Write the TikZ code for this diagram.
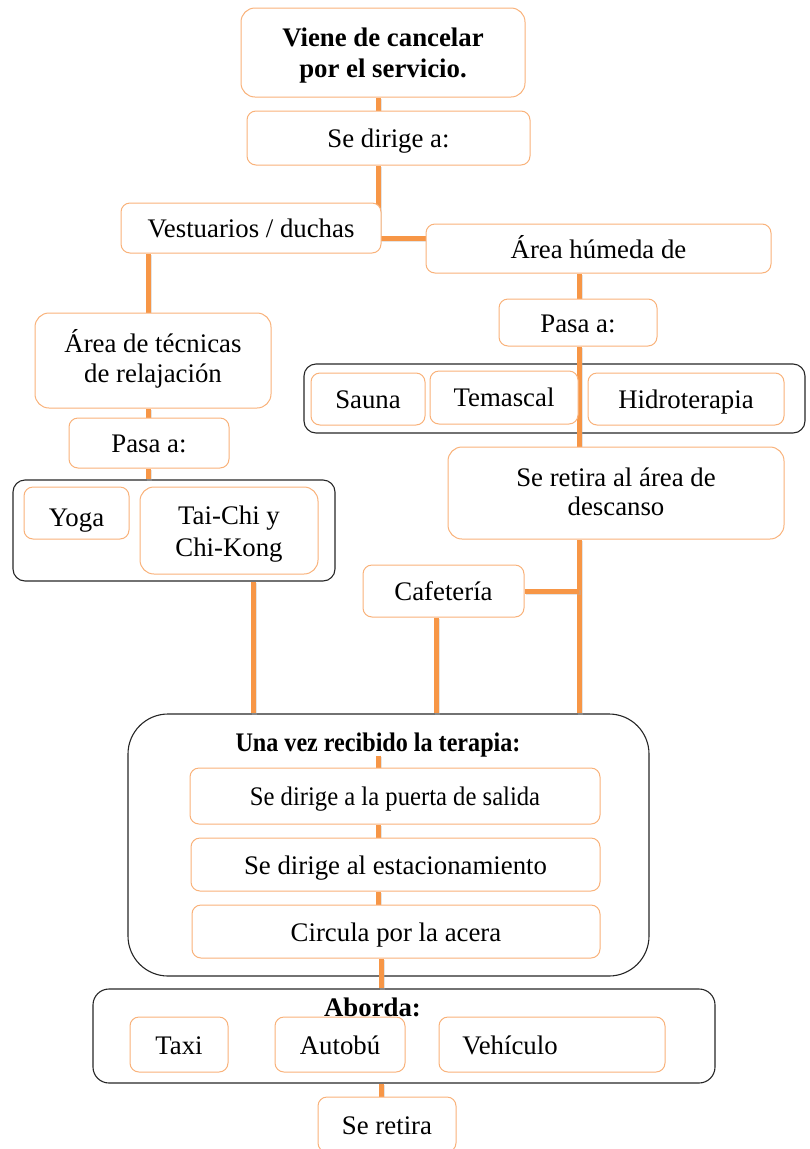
\documentclass[tikz,border=0pt]{standalone}
\usepackage{fontspec}
\usepackage{graphicx}
\setmainfont{Liberation Serif}
\definecolor{org}{HTML}{F79646}
\definecolor{orgl}{HTML}{F9B27A}
\tikzset{
  txt/.style={align=center, inner sep=0pt, font=\fontsize{26.8}{30}\selectfont, text height=23pt, text depth=4pt},
  obox/.style={txt, draw=orgl, line width=1pt, rounded corners=9pt, fill=white},
  gbox/.style={draw=black!85, line width=1.1pt, rounded corners=12pt, inner sep=0pt},
  conn/.style={draw=org, line width=5pt,
    preaction={draw=black!30, line width=5pt, opacity=0.35, transform canvas={shift={(1.5pt,-1.5pt)}}}},
}
\begin{document}
\begin{tikzpicture}[x=1pt,y=-1pt]
\useasboundingbox (0,0) rectangle (809,1149);
% line x positions
\coordinate (cL) at (148,0);
\coordinate (cM) at (378,0);
\coordinate (cM2) at (381,0);
\coordinate (cR) at (579,0);
\coordinate (cC) at (436,0);
\coordinate (cT) at (253,0);
\coordinate (j1) at (378,238);
% group containers
\node[gbox, minimum width=501, minimum height=69] (grpR) at (554.5,398.5) {};
\node[gbox, minimum width=322, minimum height=101] (grpL) at (174,530.5) {};
\node[gbox, rounded corners=40pt, minimum width=521, minimum height=262] (big) at (388.5,845) {};
\node[gbox, rounded corners=16pt, minimum width=622, minimum height=94] (abo) at (404,1036) {};
\node[txt, font=\fontsize{26.8}{30}\selectfont\bfseries] (ttl) at (378,742) {\scalebox{0.9}[1]{Una vez recibido la terapia:}};
\node[txt, font=\fontsize{26.8}{30}\selectfont\bfseries] (abt) at (372.5,1007) {Aborda:};
% box frames named first (invisible), so connectors can be drawn beneath the boxes
\begin{scope}[overlay]
\path node[obox, draw=none, fill=none, minimum width=284, minimum height=89] (top) at (383,52.5) {}
      node[obox, draw=none, fill=none, minimum width=283, minimum height=54] (dir) at (388.5,138) {}
      node[obox, draw=none, fill=none, minimum width=260, minimum height=50] (vest) at (251,228) {}
      node[obox, draw=none, fill=none, minimum width=345, minimum height=49] (hum) at (598.5,248.5) {}
      node[obox, draw=none, fill=none, minimum width=158, minimum height=47] (pasaR) at (578,322.5) {}
      node[obox, draw=none, fill=none, minimum width=336, minimum height=92] (ret) at (616,493) {}
      node[obox, draw=none, fill=none, minimum width=161, minimum height=52] (cafe) at (443.5,591) {}
      node[obox, draw=none, fill=none, minimum width=236, minimum height=95] (tec) at (153,360.5) {}
      node[obox, draw=none, fill=none, minimum width=160, minimum height=50] (pasaL) at (149,443) {}
      node[obox, draw=none, fill=none, minimum width=410, minimum height=56] (in1) at (395,796) {}
      node[obox, draw=none, fill=none, minimum width=409, minimum height=53] (in2) at (395.5,864.5) {}
      node[obox, draw=none, fill=none, minimum width=408, minimum height=53] (in3) at (396,931.5) {}
      node[obox, draw=none, fill=none, minimum width=138, minimum height=55] (seret) at (387,1124.5) {};
\end{scope}
% connectors
\draw[conn] (top.south -| cM) -- (dir.north -| cM);
\draw[conn] (dir.south -| cM) -- (j1) -- (j1 -| hum.west);
\draw[conn] (vest.south -| cL) -- (tec.north -| cL);
\draw[conn] (tec.south -| cL) -- (pasaL.north -| cL);
\draw[conn] (pasaL.south -| cL) -- (grpL.north -| cL);
\draw[conn] (hum.south -| cR) -- (pasaR.north -| cR);
\draw[conn] (pasaR.south -| cR) -- (ret.north -| cR);
\draw[conn] (ret.south -| cR) -- (big.north -| cR);
\draw[conn] (cafe.east) -- (cafe.east -| cR);
\draw[conn] (cafe.south -| cC) -- (big.north -| cC);
\draw[conn] (grpL.south -| cT) -- (big.north -| cT);
\draw[conn] (ttl.south -| cM) -- (in1.north -| cM);
\draw[conn] (in1.south -| cM) -- (in2.north -| cM);
\draw[conn] (in2.south -| cM) -- (in3.north -| cM);
\draw[conn] (in3.south -| cM2) -- (abo.north -| cM2);
\draw[conn] (abo.south -| cM2) -- (seret.north -| cM2);
% visible boxes
\node[obox, text height=55pt, text depth=6pt, rounded corners=14pt, minimum width=284, minimum height=89, font=\fontsize{26.8}{30.5}\selectfont\bfseries] at (top) {Viene de cancelar\\por el servicio.};
\node[obox, minimum width=283, minimum height=54] at (dir) {Se dirige a:};
\node[obox, minimum width=260, minimum height=50] at (vest) {Vestuarios / duchas};
\node[obox, minimum width=345, minimum height=49] at (hum) {Área húmeda de};
\node[obox, minimum width=158, minimum height=47] at (pasaR) {Pasa a:};
\node[obox, minimum width=114, minimum height=52] (sauna) at (368,399) {Sauna};
\node[obox, minimum width=148, minimum height=53, text height=21pt] (temas) at (504,397.5) {Temascal};
\node[obox, minimum width=196, minimum height=52] (hidro) at (686,399) {Hidroterapia};
\node[obox, text height=50pt, text depth=6pt, font=\fontsize{26.8}{29}\selectfont, rounded corners=14pt, minimum width=336, minimum height=92] at (ret) {Se retira al área de\\descanso};
\node[obox, minimum width=161, minimum height=52] at (cafe) {Cafetería};
\node[obox, text height=49pt, text depth=6pt, rounded corners=14pt, minimum width=236, minimum height=95] at (tec) {Área de técnicas\\de relajación};
\node[obox, minimum width=160, minimum height=50] at (pasaL) {Pasa a:};
\node[obox, minimum width=105, minimum height=52, text height=31pt] (yoga) at (76.5,513) {Yoga};
\node[obox, text height=57pt, text depth=6pt, font=\fontsize{26.8}{32}\selectfont, rounded corners=14pt, minimum width=178, minimum height=87] (tai) at (229,530.5) {Tai-Chi y\\Chi-Kong};
\node[obox, minimum width=410, minimum height=56] at (in1) {\scalebox{0.92}[1]{Se dirige a la puerta de salida}};
\node[obox, minimum width=409, minimum height=53] at (in2) {Se dirige al estacionamiento};
\node[obox, minimum width=408, minimum height=53] at (in3) {Circula por la acera};
\node[obox, minimum width=98, minimum height=55] (taxi) at (179,1044.5) {Taxi};
\node[obox, minimum width=130, minimum height=55] (autob) at (340,1044.5) {Autobú};
\node[obox, minimum width=226, minimum height=55] (vehi) at (552,1044.5) {Vehículo\hspace*{84pt}};
\node[obox, minimum width=138, minimum height=55] at (seret) {Se retira};
\end{tikzpicture}
\end{document}
